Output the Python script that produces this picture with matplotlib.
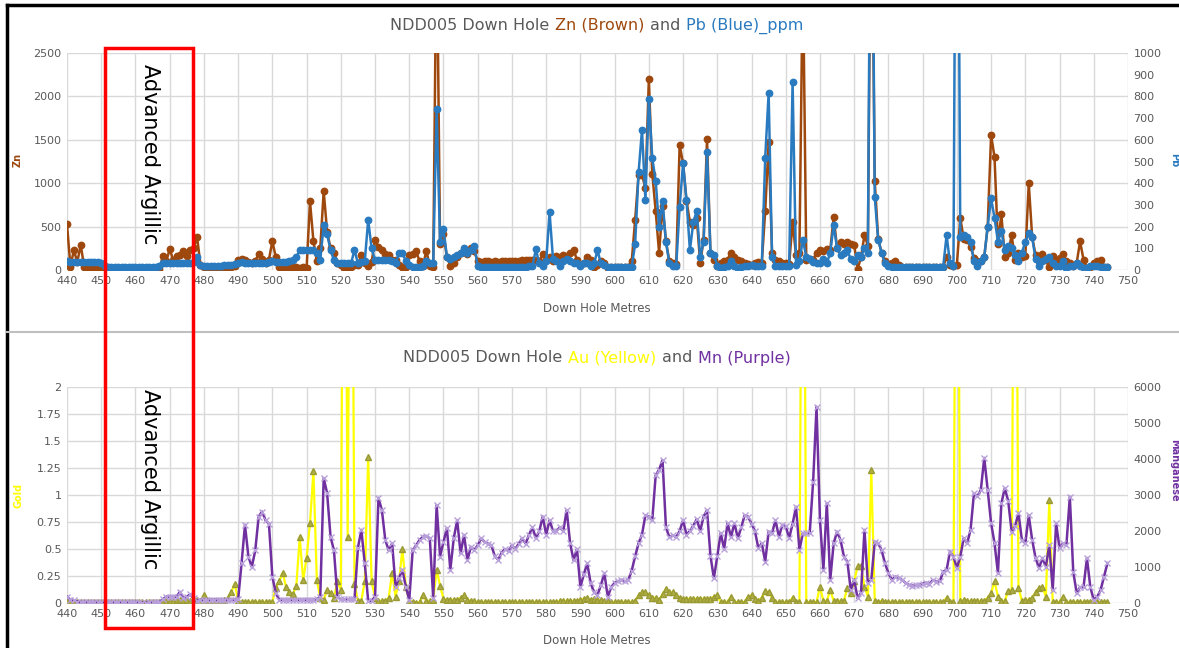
import numpy as np
import matplotlib
matplotlib.use("Agg")
import matplotlib.pyplot as plt
from matplotlib.patches import Rectangle
from matplotlib.lines import Line2D
from matplotlib.offsetbox import TextArea, HPacker, AnchoredOffsetbox

# ---------------- data (1 m samples, 440 .. 744 m) ----------------
depth = list(range(440, 745))

zn_ppm = [
    530, 40, 230, 90, 290, 40, 20, 15, 10, 10,
    10, 10, 5, 5, 5, 5, 5, 5, 5, 5,
    5, 5, 5, 5, 5, 5, 5, 10, 160, 100,
    240, 120, 160, 170, 220, 160, 230, 250, 380, 60,
    30, 20, 20, 20, 25, 25, 30, 30, 40, 50,
    120, 130, 120, 90, 80, 100, 190, 130, 80, 120,
    330, 150, 30, 20, 30, 20, 30, 40, 20, 30,
    20, 790, 330, 100, 250, 910, 440, 250, 200, 80,
    60, 20, 40, 30, 60, 60, 170, 80, 50, 90,
    345, 270, 230, 180, 170, 120, 110, 60, 40, 30,
    170, 190, 220, 100, 50, 220, 50, 30, 4000, 300,
    420, 150, 50, 80, 150, 200, 220, 180, 250, 220,
    100, 95, 100, 100, 90, 100, 95, 100, 105, 100,
    100, 105, 100, 110, 120, 120, 120, 110, 100, 180,
    120, 150, 100, 160, 150, 170, 160, 200, 230, 120,
    60, 80, 150, 120, 30, 60, 100, 80, 20, 30,
    40, 40, 40, 40, 40, 100, 580, 1100, 1100, 940,
    2200, 1110, 680, 195, 740, 330, 100, 80, 70, 1440,
    1230, 800, 550, 520, 600, 80, 350, 1510, 200, 120,
    50, 80, 100, 120, 200, 150, 120, 100, 80, 70,
    60, 80, 90, 80, 680, 1470, 200, 120, 100, 80,
    80, 70, 556, 170, 200, 3500, 120, 130, 120, 200,
    230, 220, 240, 230, 614, 250, 320, 300, 320, 300,
    290, 10, 150, 400, 280, 5000, 1025, 360, 200, 100,
    70, 80, 100, 60, 40, 40, 40, 40, 40, 40,
    40, 40, 40, 40, 40, 40, 40, 150, 60, 50,
    60, 600, 357, 350, 270, 140, 100, 100, 150, 500,
    1555, 1300, 300, 640, 150, 200, 400, 120, 200, 150,
    160, 1000, 380, 170, 100, 180, 120, 30, 160, 100,
    140, 180, 100, 80, 50, 80, 330, 120, 20, 40,
    80, 100, 110, 40, 40,
]

pb_ppm = [
    40, 38, 38, 38, 35, 35, 35, 35, 35, 35,
    30, 20, 15, 15, 15, 15, 15, 15, 15, 15,
    15, 15, 15, 15, 15, 15, 15, 20, 31, 31,
    31, 31, 31, 31, 31, 31, 31, 35, 60, 25,
    20, 20, 20, 20, 20, 20, 22, 25, 25, 28,
    30, 35, 30, 30, 30, 30, 30, 30, 30, 35,
    40, 38, 38, 38, 38, 40, 45, 60, 90, 92,
    90, 92, 90, 80, 46, 207, 165, 92, 46, 31,
    31, 31, 31, 31, 92, 31, 35, 40, 230, 100,
    46, 46, 46, 46, 46, 40, 30, 77, 80, 40,
    23, 15, 15, 15, 20, 40, 30, 30, 740, 130,
    190, 60, 50, 60, 70, 80, 100, 80, 90, 110,
    20, 15, 12, 12, 12, 12, 12, 12, 12, 12,
    12, 12, 12, 15, 15, 20, 20, 95, 30, 20,
    40, 265, 50, 40, 20, 40, 50, 40, 30, 30,
    20, 30, 30, 20, 30, 90, 30, 25, 15, 15,
    15, 15, 15, 15, 15, 15, 120, 450, 645, 322,
    788, 516, 410, 198, 318, 130, 30, 20, 20, 290,
    493, 322, 92, 220, 272, 60, 130, 543, 80, 70,
    20, 10, 15, 20, 40, 20, 10, 15, 20, 20,
    25, 20, 20, 20, 516, 815, 60, 20, 20, 20,
    20, 20, 866, 25, 40, 140, 60, 50, 35, 30,
    30, 50, 30, 80, 207, 100, 70, 80, 90, 50,
    40, 70, 60, 100, 80, 2500, 337, 140, 80, 30,
    20, 15, 15, 15, 15, 15, 15, 15, 15, 15,
    15, 15, 15, 15, 15, 15, 15, 160, 30, 20,
    3000, 150, 160, 150, 130, 40, 20, 40, 60, 200,
    330, 240, 130, 180, 90, 110, 100, 70, 40, 80,
    130, 170, 150, 50, 20, 40, 50, 60, 30, 20,
    20, 40, 10, 20, 20, 30, 20, 10, 10, 20,
    20, 20, 15, 15, 15,
]

au_ppm = [
    0.02, 0.01, 0.01, 0.01, 0.01, 0.01, 0.01, 0.01, 0.01, 0.01,
    0.01, 0.01, 0.01, 0.01, 0.01, 0.01, 0.01, 0.01, 0.01, 0.01,
    0.01, 0.01, 0.01, 0.01, 0.01, 0.01, 0.01, 0.01, 0.02, 0.02,
    0.02, 0.02, 0.03, 0.03, 0.03, 0.03, 0.02, 0.02, 0.03, 0.02,
    0.07, 0.03, 0.02, 0.02, 0.02, 0.02, 0.03, 0.05, 0.10, 0.18,
    0.02, 0.01, 0.01, 0.01, 0.01, 0.01, 0.01, 0.01, 0.01, 0.01,
    0.01, 0.14, 0.20, 0.28, 0.15, 0.10, 0.08, 0.16, 0.61, 0.21,
    0.42, 0.74, 1.22, 0.21, 0.05, 0.03, 0.12, 0.09, 0.05, 0.20,
    0.12, 6.00, 0.61, 6.00, 0.18, 0.02, 0.02, 0.20, 1.35, 0.20,
    0.05, 0.02, 0.02, 0.02, 0.05, 0.28, 0.06, 0.20, 0.50, 0.15,
    0.02, 0.01, 0.00, 0.01, 0.07, 0.02, 0.02, 0.03, 0.31, 0.16,
    0.04, 0.03, 0.03, 0.03, 0.03, 0.05, 0.07, 0.03, 0.02, 0.02,
    0.01, 0.01, 0.01, 0.01, 0.01, 0.01, 0.01, 0.01, 0.01, 0.01,
    0.01, 0.01, 0.01, 0.01, 0.01, 0.01, 0.01, 0.01, 0.01, 0.01,
    0.01, 0.01, 0.01, 0.01, 0.02, 0.02, 0.02, 0.02, 0.02, 0.02,
    0.03, 0.04, 0.05, 0.03, 0.04, 0.03, 0.03, 0.02, 0.02, 0.01,
    0.01, 0.01, 0.01, 0.01, 0.01, 0.01, 0.02, 0.07, 0.10, 0.10,
    0.07, 0.05, 0.05, 0.03, 0.08, 0.13, 0.10, 0.10, 0.07, 0.05,
    0.04, 0.04, 0.04, 0.04, 0.04, 0.04, 0.04, 0.04, 0.04, 0.06,
    0.07, 0.01, 0.01, 0.01, 0.06, 0.01, 0.01, 0.01, 0.01, 0.06,
    0.07, 0.04, 0.02, 0.05, 0.11, 0.10, 0.05, 0.01, 0.01, 0.01,
    0.01, 0.01, 0.05, 0.01, 0.01, 6.00, 0.01, 0.01, 0.01, 0.01,
    0.15, 0.02, 0.02, 0.12, 0.02, 0.02, 0.02, 0.02, 0.14, 0.09,
    0.20, 0.34, 0.34, 0.15, 0.06, 1.23, 0.02, 0.01, 0.02, 0.01,
    0.01, 0.01, 0.01, 0.01, 0.01, 0.01, 0.01, 0.01, 0.01, 0.01,
    0.01, 0.01, 0.01, 0.01, 0.01, 0.01, 0.01, 0.05, 0.01, 0.01,
    6.00, 0.02, 0.03, 0.02, 0.02, 0.02, 0.02, 0.02, 0.02, 0.05,
    0.09, 0.20, 0.06, 0.02, 0.02, 0.11, 0.12, 6.00, 0.14, 0.02,
    0.03, 0.03, 0.05, 0.10, 0.14, 0.15, 0.06, 0.95, 0.01, 0.01,
    0.01, 0.06, 0.01, 0.01, 0.01, 0.01, 0.01, 0.01, 0.01, 0.01,
    0.01, 0.01, 0.01, 0.01, 0.01,
]

mn_ppm = [
    175, 80, 80, 40, 30, 30, 30, 30, 30, 30,
    20, 20, 20, 20, 20, 20, 20, 20, 20, 20,
    30, 20, 10, 10, 20, 20, 20, 30, 100, 175,
    175, 175, 175, 310, 130, 175, 240, 130, 60, 90,
    90, 90, 90, 90, 90, 90, 90, 90, 90, 90,
    100, 1100, 2170, 1290, 1000, 1460, 2400, 2540, 2300, 2200,
    730, 280, 90, 90, 90, 90, 90, 90, 90, 90,
    90, 90, 90, 100, 175, 3470, 3050, 1840, 1460, 175,
    100, 100, 100, 100, 100, 1530, 2030, 1100, 60, 60,
    175, 2920, 2580, 1750, 1460, 1660, 450, 700, 920, 450,
    80, 1470, 1600, 1750, 1840, 1850, 1800, 140, 2720, 1290,
    1700, 2080, 920, 1800, 2300, 1380, 1890, 1190, 1560, 1470,
    1600, 1800, 1700, 1650, 1600, 1300, 1200, 1400, 1500, 1450,
    1600, 1500, 1650, 1800, 1650, 1900, 2100, 1800, 2000, 2400,
    1900, 2300, 2000, 2000, 2100, 2000, 2580, 1660, 1190, 1500,
    440, 800, 1100, 550, 300, 220, 500, 830, 170, 440,
    560, 600, 640, 600, 640, 900, 1300, 1660, 1900, 2440,
    2400, 2300, 3550, 3700, 3970, 2100, 1830, 1880, 1830, 2000,
    2300, 1900, 2000, 2150, 2330, 2000, 2400, 2580, 1310, 690,
    1300, 1940, 1500, 2220, 1830, 2220, 1800, 2100, 2440, 2400,
    2200, 2000, 1520, 1660, 1150, 1980, 1940, 2300, 1840, 2170,
    2130, 1800, 2200, 2670, 1470, 1940, 1940, 1940, 3370, 5450,
    2300, 920, 2770, 640, 1660, 1980, 1750, 1290, 1150, 360,
    640, 130, 280, 2030, 550, 640, 1700, 1660, 1470, 1100,
    830, 640, 730, 700, 640, 560, 500, 480, 500, 500,
    540, 560, 520, 640, 590, 600, 870, 920, 1430, 1290,
    970, 1290, 1800, 1660, 2030, 3050, 2960, 3140, 4030, 3140,
    2220, 1660, 830, 2770, 3190, 2830, 1980, 2130, 2500, 1750,
    1660, 2440, 1750, 1250, 970, 1250, 1010, 1610, 360, 2220,
    1520, 1660, 1610, 2950, 870, 280, 440, 440, 1250, 440,
    80, 170, 360, 730, 1110,
]

x_ticks = list(range(440, 751, 10))
zn_ticks = [0, 500, 1000, 1500, 2000, 2500]
pb_ticks = list(range(0, 1001, 100))
au_ticks = [0, 0.25, 0.5, 0.75, 1, 1.25, 1.5, 1.75, 2]
au_labels = ["0", "0.25", "0.5", "0.75", "1", "1.25", "1.5", "1.75", "2"]
mn_ticks = list(range(0, 6001, 1000))

# ---------------- styling ----------------
W, H = 1179, 648
BROWN = "#9E480E"
BLUE = "#2A7AC0"
YELLOW = "#FFFF00"
PURPLE = "#7030A0"
GREY = "#595959"
GRID = "#D9D9D9"

fig = plt.figure(figsize=(W / 100, H / 100), dpi=100)
fig.patch.set_facecolor("white")


def px_axes(left, top, right, bottom):
    return fig.add_axes([left / W, 1 - bottom / H, (right - left) / W, (bottom - top) / H])


def style(ax):
    for s in ax.spines.values():
        s.set_visible(False)
    ax.tick_params(length=0, labelsize=8, labelcolor=GREY, pad=4)


# ---------- top chart: Zn & Pb ----------
ax1 = px_axes(67, 53, 1128, 270)
ax1.set_xlim(440, 750)
ax1.set_ylim(0, 2500)
ax1.set_xticks(x_ticks)
ax1.set_yticks(zn_ticks)
ax1.grid(True, color=GRID, lw=1)
ax1.set_axisbelow(True)
style(ax1)
ax1.plot(depth, zn_ppm, color=BROWN, lw=1.8, marker="o", ms=4.6, mfc=BROWN, mec=BROWN,
         solid_joinstyle="round", zorder=3)
ax1b = ax1.twinx()
ax1b.set_ylim(0, 1000)
ax1b.set_yticks(pb_ticks)
style(ax1b)
ax1b.plot(depth, pb_ppm, color=BLUE, lw=1.8, marker="o", ms=4.6, mfc=BLUE, mec=BLUE,
          solid_joinstyle="round", zorder=3)

# ---------- bottom chart: Au & Mn ----------
ax2 = px_axes(67, 387, 1128, 603)
ax2.set_xlim(440, 750)
ax2.set_ylim(0, 2)
ax2.set_xticks(x_ticks)
ax2.set_yticks(au_ticks)
ax2.set_yticklabels(au_labels)
ax2.grid(True, color=GRID, lw=1)
ax2.set_axisbelow(True)
style(ax2)
ax2.plot(depth, au_ppm, color=YELLOW, lw=1.6, marker="^", ms=4, mfc="#AEAE45",
         mec="#9A9A35", zorder=3)
ax2b = ax2.twinx()
ax2b.set_ylim(0, 6000)
ax2b.set_yticks(mn_ticks)
style(ax2b)
ax2b.plot(depth, mn_ppm, color=PURPLE, lw=1.8, marker="x", ms=4.5, mec="#B8A0DA",
          mew=1, zorder=3)


# ---------- titles ----------
def color_title(xc, yc, pieces, size=11.5):
    boxes = [TextArea(s, textprops=dict(color=c, fontsize=size)) for s, c in pieces]
    pack = HPacker(children=boxes, align="baseline", pad=0, sep=4)
    anch = AnchoredOffsetbox(loc="center", child=pack, pad=0, borderpad=0, frameon=False,
                             bbox_to_anchor=(xc / W, 1 - yc / H),
                             bbox_transform=fig.transFigure)
    fig.add_artist(anch)


color_title(597, 26, [("NDD005 Down Hole", GREY), ("Zn (Brown)", BROWN), ("and", GREY),
                      ("Pb (Blue)_ppm", BLUE)])
color_title(597, 358, [("NDD005 Down Hole", GREY), ("Au (Yellow)", YELLOW), ("and", GREY),
                       ("Mn (Purple)", PURPLE)])

fig.text(597 / W, 1 - 308 / H, "Down Hole Metres", color=GREY, fontsize=8.5,
         ha="center", va="center")
fig.text(597 / W, 1 - 640 / H, "Down Hole Metres", color=GREY, fontsize=8.5,
         ha="center", va="center")

fig.text(18 / W, 1 - 160 / H, "Zn", color=BROWN, fontsize=7, fontweight="bold",
         rotation=90, ha="center", va="center")
fig.text(1174 / W, 1 - 160 / H, "Pb", color=BLUE, fontsize=7, fontweight="bold",
         rotation=270, ha="center", va="center")
fig.text(18 / W, 1 - 495 / H, "Gold", color=YELLOW, fontsize=7, fontweight="bold",
         rotation=90, ha="center", va="center")
fig.text(1174 / W, 1 - 470 / H, "Manganese", color=PURPLE, fontsize=7, fontweight="bold",
         rotation=270, ha="center", va="center")

# ---------- annotation box ----------
fig.add_artist(Rectangle((105 / W, 1 - 628 / H), 88 / W, 580 / H, fill=False,
                         edgecolor="#FF0000", lw=2.5, transform=fig.transFigure, zorder=10))
fig.text(150 / W, 1 - 64 / H, "Advanced Argillic", rotation=270, fontsize=15,
         ha="center", va="top", color="black", zorder=11)
fig.text(150 / W, 1 - 389 / H, "Advanced Argillic", rotation=270, fontsize=15,
         ha="center", va="top", color="black", zorder=11)

# ---------- frame lines ----------
fig.add_artist(Line2D([7 / W, 1], [1 - 5 / H, 1 - 5 / H], color="black", lw=2.5,
                      transform=fig.transFigure))
fig.add_artist(Line2D([7 / W, 7 / W], [0, 1 - 5 / H], color="black", lw=2.5,
                      transform=fig.transFigure))
fig.add_artist(Line2D([7 / W, 1], [1 - 332 / H, 1 - 332 / H], color="#BFBFBF", lw=1.5,
                      transform=fig.transFigure))

fig.savefig("out.png", dpi=100)
